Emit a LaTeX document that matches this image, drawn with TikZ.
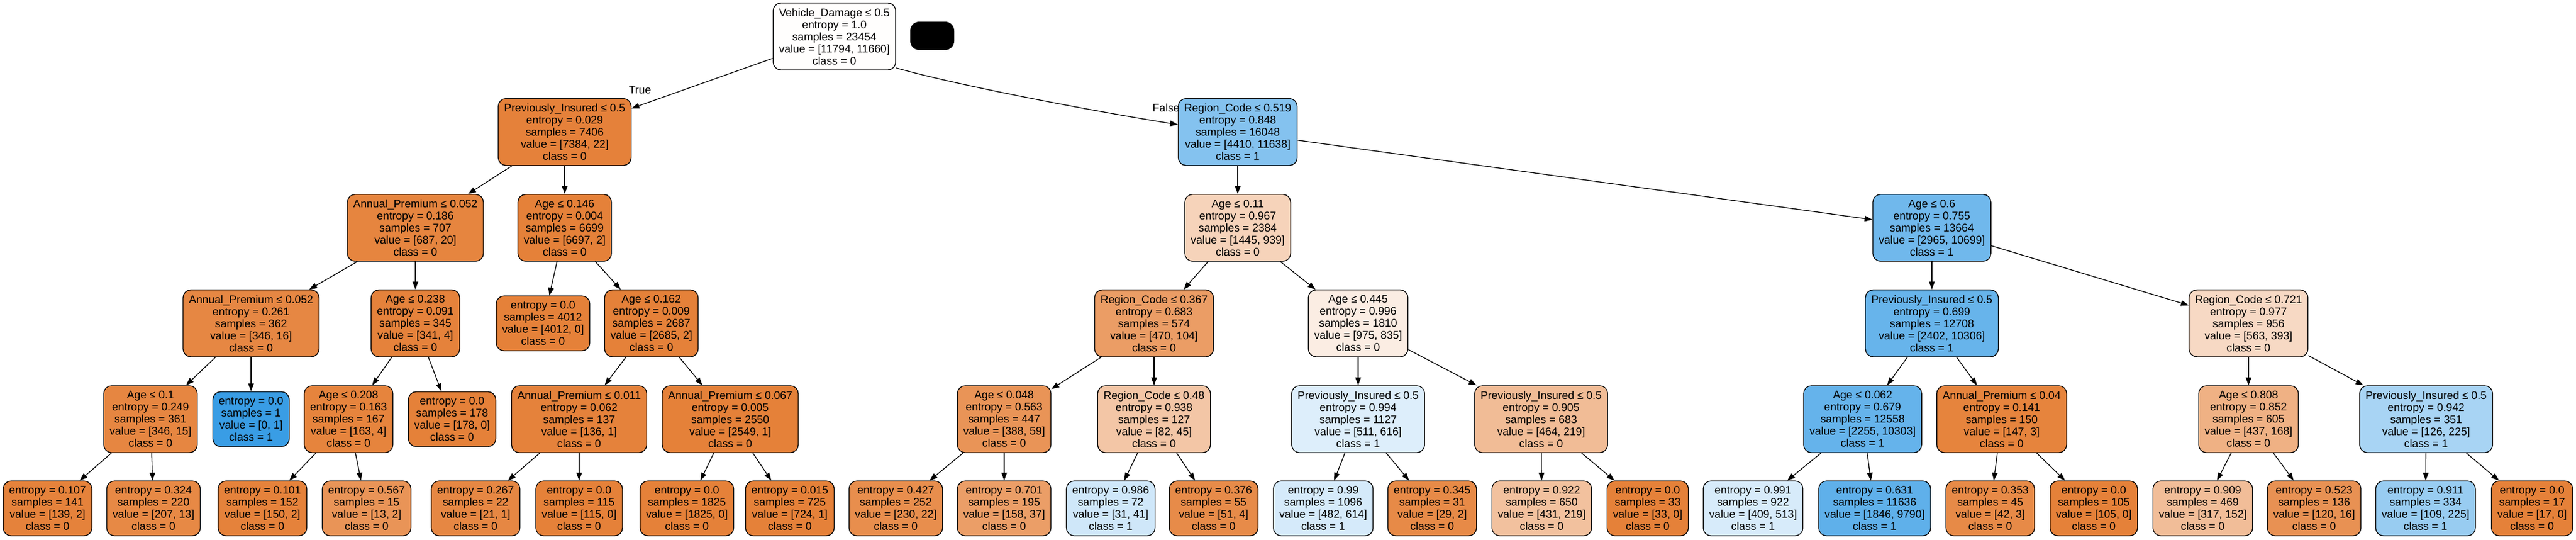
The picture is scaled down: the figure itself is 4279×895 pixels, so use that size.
\documentclass[tikz,border=0pt]{standalone}
\usepackage{fontspec}
\setmainfont{Liberation Sans}
\usetikzlibrary{arrows.meta}
\definecolor{cls0}{HTML}{E58139}
\definecolor{cls1}{HTML}{399DE5}
\begin{document}
\begin{tikzpicture}[x=0.5pt,y=-0.5pt]
	\tikzset{box/.style={draw=black, line width=0.65pt, rounded corners=6.5pt, align=center, inner xsep=4.9pt, inner ysep=2pt, minimum height=55.5pt, font=\fontsize{9.15}{10}\selectfont}};
	\tikzset{leaf/.style={box, minimum height=45.5pt}};
	\tikzset{lbl/.style={inner sep=0pt, font=\fontsize{9.15}{10}\selectfont}};
	\tikzset{edge/.style={-{Triangle[length=6.5pt,width=4.6pt]}, line width=0.65pt}};
	\useasboundingbox (0,0) rectangle (4279,895);

	% root and the black tag beside it
	\node[box, fill=cls0!1!white] (0) at (1386,60.5) {Vehicle\_Damage ≤ 0.5\\entropy = 1.0\\samples = 23454\\value = [11794, 11660]\\class = 0};
	\node[fill=black, rounded corners=7.5pt, minimum width=36.5pt, minimum height=23.5pt, inner sep=0pt] (key) at (1548.5,59.5) {};

	% left half
	\node[box, fill=cls0!99.7!white] (1) at (938,219) {Previously\_Insured ≤ 0.5\\entropy = 0.029\\samples = 7406\\value = [7384, 22]\\class = 0};
	\node[box, fill=cls0!97!white] (2) at (690,378) {Annual\_Premium ≤ 0.052\\entropy = 0.186\\samples = 707\\value = [687, 20]\\class = 0};
	\node[box, fill=cls0!95!white] (3) at (417,536.5) {Annual\_Premium ≤ 0.052\\entropy = 0.261\\samples = 362\\value = [346, 16]\\class = 0};
	\node[box, fill=cls0!96!white] (4) at (250,695.5) {Age ≤ 0.1\\entropy = 0.249\\samples = 361\\value = [346, 15]\\class = 0};
	\node[leaf, fill=cls0!99!white] (5) at (79,843.5) {entropy = 0.107\\samples = 141\\value = [139, 2]\\class = 0};
	\node[leaf, fill=cls0!94!white] (6) at (255,843.5) {entropy = 0.324\\samples = 220\\value = [207, 13]\\class = 0};
	\node[leaf, fill=cls1] (7) at (417,695.5) {entropy = 0.0\\samples = 1\\value = [0, 1]\\class = 1};
	\node[box, fill=cls0!99!white] (8) at (690,536.5) {Age ≤ 0.238\\entropy = 0.091\\samples = 345\\value = [341, 4]\\class = 0};
	\node[box, fill=cls0!98!white] (9) at (579,695.5) {Age ≤ 0.208\\entropy = 0.163\\samples = 167\\value = [163, 4]\\class = 0};
	\node[leaf, fill=cls0!99!white] (10) at (436,843.5) {entropy = 0.101\\samples = 152\\value = [150, 2]\\class = 0};
	\node[leaf, fill=cls0!85!white] (11) at (609,843.5) {entropy = 0.567\\samples = 15\\value = [13, 2]\\class = 0};
	\node[leaf, fill=cls0] (12) at (751,695.5) {entropy = 0.0\\samples = 178\\value = [178, 0]\\class = 0};
	\node[box, fill=cls0] (13) at (938,378) {Age ≤ 0.146\\entropy = 0.004\\samples = 6699\\value = [6697, 2]\\class = 0};
	\node[leaf, fill=cls0] (14) at (902,536.5) {entropy = 0.0\\samples = 4012\\value = [4012, 0]\\class = 0};
	\node[box, fill=cls0] (15) at (1082,536.5) {Age ≤ 0.162\\entropy = 0.009\\samples = 2687\\value = [2685, 2]\\class = 0};
	\node[box, fill=cls0!99!white] (16) at (962,695.5) {Annual\_Premium ≤ 0.011\\entropy = 0.062\\samples = 137\\value = [136, 1]\\class = 0};
	\node[leaf, fill=cls0!95!white] (17) at (790,843.5) {entropy = 0.267\\samples = 22\\value = [21, 1]\\class = 0};
	\node[leaf, fill=cls0] (18) at (962,843.5) {entropy = 0.0\\samples = 115\\value = [115, 0]\\class = 0};
	\node[box, fill=cls0] (19) at (1213,695.5) {Annual\_Premium ≤ 0.067\\entropy = 0.005\\samples = 2550\\value = [2549, 1]\\class = 0};
	\node[leaf, fill=cls0] (20) at (1141,843.5) {entropy = 0.0\\samples = 1825\\value = [1825, 0]\\class = 0};
	\node[leaf, fill=cls0] (21) at (1312,843.5) {entropy = 0.015\\samples = 725\\value = [724, 1]\\class = 0};

	% right half
	\node[box, fill=cls1!62!white] (22) at (2056,219) {Region\_Code ≤ 0.519\\entropy = 0.848\\samples = 16048\\value = [4410, 11638]\\class = 1};
	\node[box, fill=cls0!35!white] (23) at (2056,378) {Age ≤ 0.11\\entropy = 0.967\\samples = 2384\\value = [1445, 939]\\class = 0};
	\node[box, fill=cls0!78!white] (24) at (1917,536.5) {Region\_Code ≤ 0.367\\entropy = 0.683\\samples = 574\\value = [470, 104]\\class = 0};
	\node[box, fill=cls0!85!white] (25) at (1668,695.5) {Age ≤ 0.048\\entropy = 0.563\\samples = 447\\value = [388, 59]\\class = 0};
	\node[leaf, fill=cls0!90!white] (26) at (1488,843.5) {entropy = 0.427\\samples = 252\\value = [230, 22]\\class = 0};
	\node[leaf, fill=cls0!77!white] (27) at (1668,843.5) {entropy = 0.701\\samples = 195\\value = [158, 37]\\class = 0};
	\node[box, fill=cls0!45!white] (28) at (1917,695.5) {Region\_Code ≤ 0.48\\entropy = 0.938\\samples = 127\\value = [82, 45]\\class = 0};
	\node[leaf, fill=cls1!24!white] (29) at (1845,843.5) {entropy = 0.986\\samples = 72\\value = [31, 41]\\class = 1};
	\node[leaf, fill=cls0!92!white] (30) at (2016,843.5) {entropy = 0.376\\samples = 55\\value = [51, 4]\\class = 0};
	\node[box, fill=cls0!14!white] (31) at (2256,536.5) {Age ≤ 0.445\\entropy = 0.996\\samples = 1810\\value = [975, 835]\\class = 0};
	\node[box, fill=cls1!17!white] (32) at (2256,695.5) {Previously\_Insured ≤ 0.5\\entropy = 0.994\\samples = 1127\\value = [511, 616]\\class = 1};
	\node[leaf, fill=cls1!21!white] (33) at (2198,843.5) {entropy = 0.99\\samples = 1096\\value = [482, 614]\\class = 1};
	\node[leaf, fill=cls0!93!white] (34) at (2379,843.5) {entropy = 0.345\\samples = 31\\value = [29, 2]\\class = 0};
	\node[box, fill=cls0!53!white] (35) at (2560,695.5) {Previously\_Insured ≤ 0.5\\entropy = 0.905\\samples = 683\\value = [464, 219]\\class = 0};
	\node[leaf, fill=cls0!49!white] (36) at (2561,843.5) {entropy = 0.922\\samples = 650\\value = [431, 219]\\class = 0};
	\node[leaf, fill=cls0] (37) at (2737,843.5) {entropy = 0.0\\samples = 33\\value = [33, 0]\\class = 0};
	\node[box, fill=cls1!72!white] (38) at (3209,378) {Age ≤ 0.6\\entropy = 0.755\\samples = 13664\\value = [2965, 10699]\\class = 1};
	\node[box, fill=cls1!77!white] (39) at (3209,536.5) {Previously\_Insured ≤ 0.5\\entropy = 0.699\\samples = 12708\\value = [2402, 10306]\\class = 1};
	\node[box, fill=cls1!78!white] (40) at (3094,695.5) {Age ≤ 0.062\\entropy = 0.679\\samples = 12558\\value = [2255, 10303]\\class = 1};
	\node[leaf, fill=cls1!20!white] (41) at (2912,843.5) {entropy = 0.991\\samples = 922\\value = [409, 513]\\class = 1};
	\node[leaf, fill=cls1!81!white] (42) at (3114,843.5) {entropy = 0.631\\samples = 11636\\value = [1846, 9790]\\class = 1};
	\node[box, fill=cls0!98!white] (43) at (3325,695.5) {Annual\_Premium ≤ 0.04\\entropy = 0.141\\samples = 150\\value = [147, 3]\\class = 0};
	\node[leaf, fill=cls0!93!white] (44) at (3306,843.5) {entropy = 0.353\\samples = 45\\value = [42, 3]\\class = 0};
	\node[leaf, fill=cls0] (45) at (3478,843.5) {entropy = 0.0\\samples = 105\\value = [105, 0]\\class = 0};
	\node[box, fill=cls0!30!white] (46) at (3735,536.5) {Region\_Code ≤ 0.721\\entropy = 0.977\\samples = 956\\value = [563, 393]\\class = 0};
	\node[box, fill=cls0!62!white] (47) at (3735,695.5) {Age ≤ 0.808\\entropy = 0.852\\samples = 605\\value = [437, 168]\\class = 0};
	\node[leaf, fill=cls0!52!white] (48) at (3659,843.5) {entropy = 0.909\\samples = 469\\value = [317, 152]\\class = 0};
	\node[leaf, fill=cls0!87!white] (49) at (3844,843.5) {entropy = 0.523\\samples = 136\\value = [120, 16]\\class = 0};
	\node[box, fill=cls1!44!white] (50) at (4030,695.5) {Previously\_Insured ≤ 0.5\\entropy = 0.942\\samples = 351\\value = [126, 225]\\class = 1};
	\node[leaf, fill=cls1!52!white] (51) at (4029,843.5) {entropy = 0.911\\samples = 334\\value = [109, 225]\\class = 1};
	\node[leaf, fill=cls0] (52) at (4206,843.5) {entropy = 0.0\\samples = 17\\value = [17, 0]\\class = 0};

	\node[lbl] (t) at (1063,149) {True};
	\node[lbl] (f) at (1937,179) {False};

	\draw[edge] (0) -- (1);
	\draw[edge] (0.-27) .. controls (1588,141) and (1808,183) .. (22.173);
	\draw[edge] (1) -- (2);
	\draw[edge] (1) -- (13);
	\draw[edge] (2) -- (3);
	\draw[edge] (2) -- (8);
	\draw[edge] (3) -- (4);
	\draw[edge] (3) -- (7);
	\draw[edge] (4) -- (5);
	\draw[edge] (4) -- (6);
	\draw[edge] (8) -- (9);
	\draw[edge] (8) -- (12);
	\draw[edge] (9) -- (10);
	\draw[edge] (9) -- (11);
	\draw[edge] (13) -- (14);
	\draw[edge] (13) -- (15);
	\draw[edge] (15) -- (16);
	\draw[edge] (15) -- (19);
	\draw[edge] (16) -- (17);
	\draw[edge] (16) -- (18);
	\draw[edge] (19) -- (20);
	\draw[edge] (19) -- (21);
	\draw[edge] (22) -- (23);
	\draw[edge] (22) -- (38);
	\draw[edge] (23) -- (24);
	\draw[edge] (23) -- (31);
	\draw[edge] (24) -- (25);
	\draw[edge] (24) -- (28);
	\draw[edge] (25) -- (26);
	\draw[edge] (25) -- (27);
	\draw[edge] (28) -- (29);
	\draw[edge] (28) -- (30);
	\draw[edge] (31) -- (32);
	\draw[edge] (31) -- (35);
	\draw[edge] (32) -- (33);
	\draw[edge] (32) -- (34);
	\draw[edge] (35) -- (36);
	\draw[edge] (35) -- (37);
	\draw[edge] (38) -- (39);
	\draw[edge] (38) -- (46);
	\draw[edge] (39) -- (40);
	\draw[edge] (39) -- (43);
	\draw[edge] (40) -- (41);
	\draw[edge] (40) -- (42);
	\draw[edge] (43) -- (44);
	\draw[edge] (43) -- (45);
	\draw[edge] (46) -- (47);
	\draw[edge] (46) -- (50);
	\draw[edge] (47) -- (48);
	\draw[edge] (47) -- (49);
	\draw[edge] (50) -- (51);
	\draw[edge] (50) -- (52);
\end{tikzpicture}
\end{document}
